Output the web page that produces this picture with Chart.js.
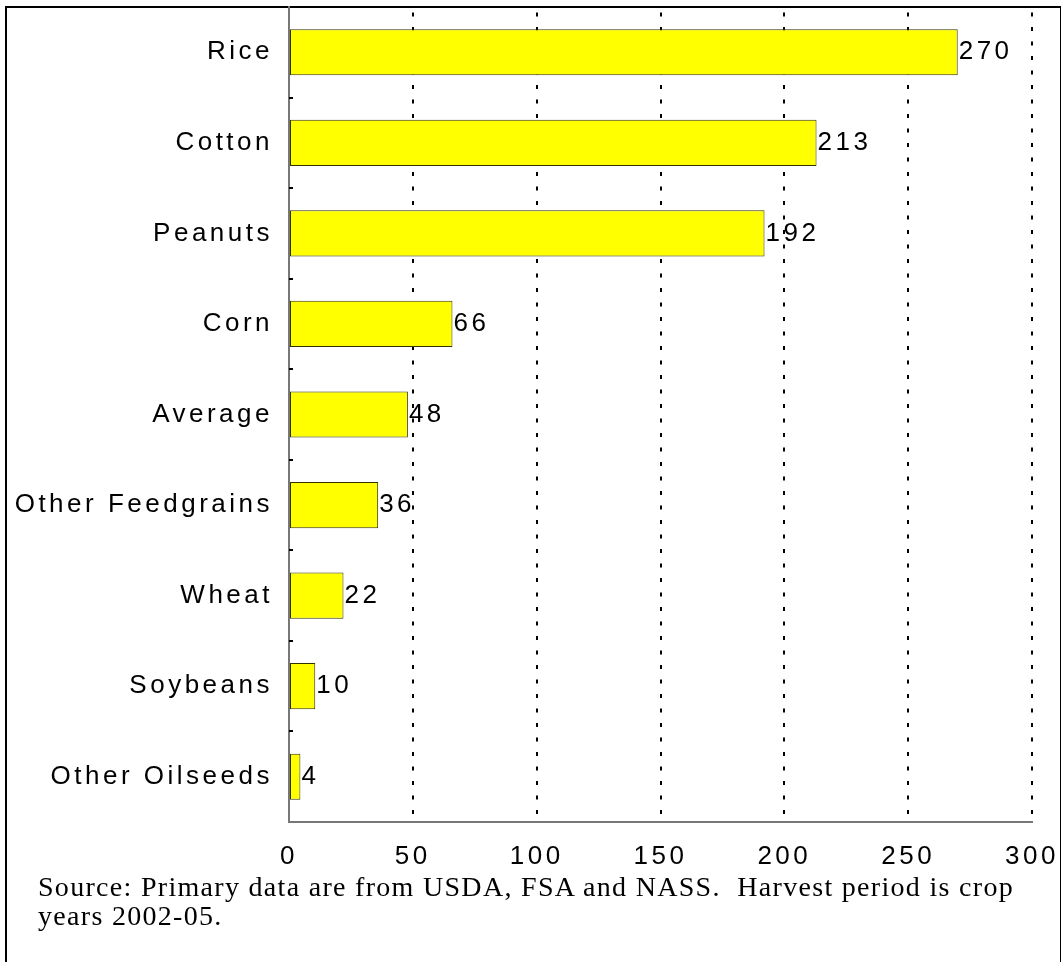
<!DOCTYPE html>
<html>
<head>
<meta charset="utf-8">
<script src="https://cdn.jsdelivr.net/npm/chart.js@4"></script>
<style>
  body { margin: 0; background: #fff; width: 1061px; height: 962px; overflow: hidden; position: relative; }
  #frame { position: absolute; left: 5px; top: 6px; width: 1053px; height: 980px;
           border: 2px solid #000; border-bottom: none; }
  #chart3 { position: absolute; left: 0; top: 0; }
  #source { position: absolute; left: 38px; top: 872px; font-family: 'Liberation Serif', 'Times New Roman', serif;
            font-size: 28px; line-height: 29px; letter-spacing: 1.3px; color: #000; white-space: pre; }
</style>
</head>
<body>
<div id="frame"></div>
<canvas id="chart3" width="1061" height="880"></canvas>
<div id="source">Source: Primary data are from USDA, FSA and NASS.  Harvest period is crop
years 2002-05.</div>
<script>
const crops = ['Rice', 'Cotton', 'Peanuts', 'Corn', 'Average', 'Other Feedgrains', 'Wheat', 'Soybeans', 'Other Oilseeds'];
const payments = [270, 213, 192, 66, 48, 36, 22, 10.6, 4.6];
const xTicks = [0, 50, 100, 150, 200, 250, 300];

const labelFont = { family: "'Liberation Sans', Arial, sans-serif", size: 26 };
const letterGap = '3.5px';

// canvas text in the original is spaced out a bit
const spacing = {
    id: 'spacing',
    beforeUpdate(chart) { chart.ctx.letterSpacing = letterGap; },
    beforeDraw(chart) { chart.ctx.letterSpacing = letterGap; }
};

// value labels right after the bar ends (whole numbers, cut not rounded)
const valueLabels = {
    id: 'valueLabels',
    afterDatasetsDraw(chart) {
        const ctx = chart.ctx;
        const meta = chart.getDatasetMeta(0);
        ctx.save();
        ctx.letterSpacing = letterGap;
        ctx.font = labelFont.size + 'px ' + labelFont.family;
        ctx.fillStyle = '#000';
        ctx.textBaseline = 'middle';
        ctx.textAlign = 'left';
        meta.data.forEach((bar, i) => {
            ctx.fillText(String(Math.floor(payments[i])), bar.x + 1, bar.y);
        });
        ctx.restore();
    }
};

// small inward tick marks between the categories
const catTicks = {
    id: 'catTicks',
    afterDraw(chart) {
        const y = chart.scales.y;
        const ctx = chart.ctx;
        ctx.save();
        ctx.strokeStyle = '#000';
        ctx.lineWidth = 2;
        ctx.beginPath();
        for (let i = 1; i < crops.length; i++) {
            const py = Math.round((y.getPixelForValue(i - 1) + y.getPixelForValue(i)) / 2);
            ctx.moveTo(y.right, py);
            ctx.lineTo(y.right + 4, py);
        }
        ctx.stroke();
        ctx.restore();
    }
};

const ctx3 = document.getElementById('chart3').getContext('2d');

const chart = new Chart(ctx3, {
    type: 'bar',
    data: {
        labels: crops,
        datasets: [{
            data: payments,
            backgroundColor: '#ffff00',
            borderColor: '#333300',
            borderWidth: 1,
            borderSkipped: false,
            barPercentage: 0.51,
            categoryPercentage: 1
        }]
    },
    options: {
        indexAxis: 'y',
        responsive: false,
        animation: false,
        devicePixelRatio: 1,
        layout: { padding: { top: 7, right: 29, left: 0, bottom: 0 } },
        plugins: {
            legend: { display: false },
            tooltip: { enabled: false }
        },
        scales: {
            x: {
                min: 0,
                max: 300,
                afterBuildTicks: (scale) => { scale.ticks = xTicks.map(v => ({ value: v })); },
                afterFit: (scale) => {
                    scale.height = 58;
                    scale.paddingLeft = 0;
                    scale.paddingRight = 0;
                },
                grid: { color: '#000', lineWidth: 2, drawTicks: false },
                border: { color: '#777', width: 2, dash: [4, 10.5], dashOffset: 9 },
                ticks: { color: '#000', font: labelFont, padding: 19, maxRotation: 0 }
            },
            y: {
                afterFit: (scale) => {
                    scale.width = 289;
                    scale.paddingTop = 0;
                    scale.paddingBottom = 0;
                },
                grid: { display: false },
                border: { color: '#777', width: 2 },
                ticks: { color: '#000', font: labelFont, padding: 8 }
            }
        }
    },
    plugins: [spacing, valueLabels, catTicks]
});
</script>
</body>
</html>
